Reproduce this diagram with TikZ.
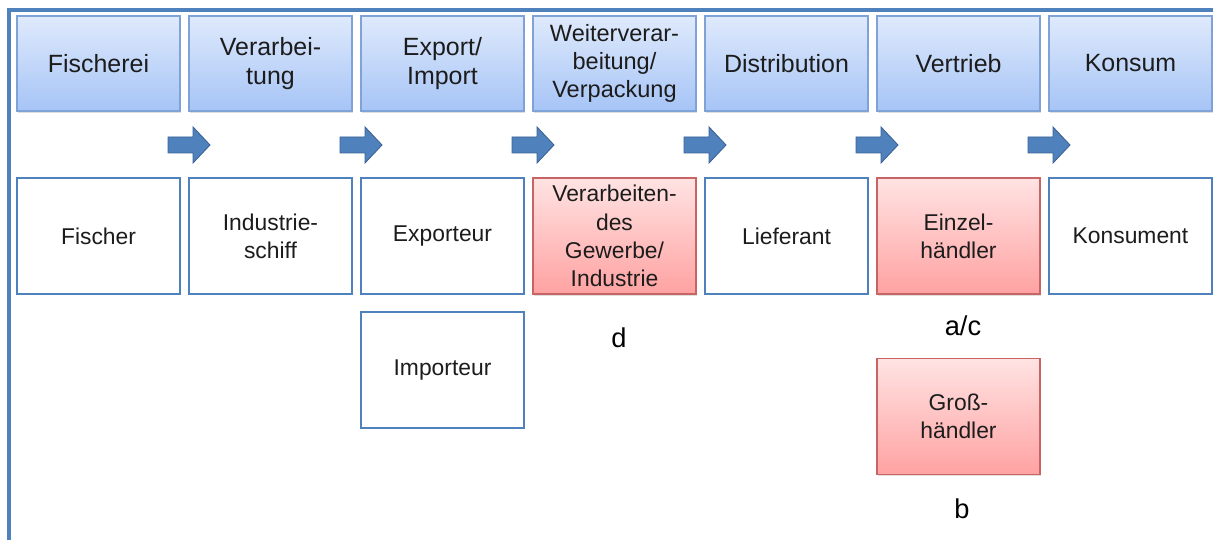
\documentclass[tikz,border=0pt]{standalone}
\usepackage{fontspec}
\setmainfont{Liberation Sans}
\usetikzlibrary{shadows}
\definecolor{rahmenblau}{HTML}{4F81BD}
\definecolor{stufeoben}{HTML}{DFEAFC}
\definecolor{stufeunten}{HTML}{A6C4F6}
\definecolor{stufelinie}{HTML}{7FA3D6}
\definecolor{rotoben}{HTML}{FFE3E3}
\definecolor{rotunten}{HTML}{FFA2A2}
\definecolor{rotlinie}{HTML}{C86464}
\definecolor{pfeilrand}{HTML}{3B6296}
\definecolor{schrift}{HTML}{1C1C1C}
\tikzset{
	stufe/.style={draw=stufelinie, line width=0.8pt, top color=stufeoben, bottom color=stufeunten,
		minimum width=3.26cm, minimum height=1.9cm, align=center, text=schrift,
		font=\fontsize{14.2}{16.6}\selectfont,
		drop shadow={shadow xshift=0.6pt, shadow yshift=-1pt, opacity=0.25}},
	akteur/.style={draw=rahmenblau, line width=1.4pt, fill=white,
		minimum width=3.26cm, minimum height=2.32cm, align=center, text=schrift,
		font=\fontsize{13}{16}\selectfont},
	akteurrot/.style={akteur, draw=rotlinie, line width=0.8pt, top color=rotoben, bottom color=rotunten,
		drop shadow={shadow xshift=0.6pt, shadow yshift=-1pt, opacity=0.25}},
	kennung/.style={text=black, font=\fontsize{15.5}{18}\selectfont},
	pfeil/.style={draw=pfeilrand, line width=0.5pt, fill=rahmenblau}
}
\begin{document}
\begin{tikzpicture}[x=0.02cm, y=-0.02cm]
	\useasboundingbox (0,0) rectangle (1213,540);
	%Rahmen
	\draw[rahmenblau, line width=2.3pt] (9,540) -- (9,10) -- (1213,10);
	
	%Stufen
	\node[stufe] (fischerei) at (98.5,63.5) {Fischerei};
	\node[stufe] (verarb) at (270.5,63.5) {Verarbei-\\tung};
	\node[stufe] (export) at (442.5,63.5) {Export/\\Import};
	\node[stufe, font=\fontsize{13.4}{16}\selectfont] (weiter) at (614.5,63.5) {Weiterverar-\\beitung/\\Verpackung};
	\node[stufe] (distrib) at (786.5,63.5) {Distribution};
	\node[stufe] (vertrieb) at (958.5,63.5) {Vertrieb};
	\node[stufe] (konsum) at (1130.5,63.5) {Konsum};
	
	%Pfeile
	\foreach \x in {189,361,533,705,877,1049}
		\draw[pfeil] (\x-21,137) -- (\x+4,137) -- (\x+4,127) -- (\x+21,145) -- (\x+4,163) -- (\x+4,153) -- (\x-21,153) -- cycle;
	
	%Akteure
	\node[akteur] (fischer) at (98.5,236) {Fischer};
	\node[akteur] (schiff) at (270.5,236) {Industrie-\\schiff};
	\node[akteur] (exporteur) at (442.5,236) {Exporteur};
	\node[akteurrot] (gewerbe) at (614.5,236) {Verarbeiten-\\des\\Gewerbe/\\Industrie};
	\node[akteur] (lieferant) at (786.5,236) {Lieferant};
	\node[akteurrot] (einzel) at (958.5,236) {Einzel-\\händler};
	\node[akteur] (konsument) at (1130.5,236) {Konsument};
	\node[akteur] (importeur) at (442.5,370) {Importeur};
	\node[akteurrot] (gross) at (958.5,416.5) {Groß-\\händler};
	
	\node[kennung] (kd) at (619,338) {d};
	\node[kennung] (kac) at (963,326) {a/c};
	\node[kennung] (kb) at (962,509) {b};
\end{tikzpicture}
\end{document}
